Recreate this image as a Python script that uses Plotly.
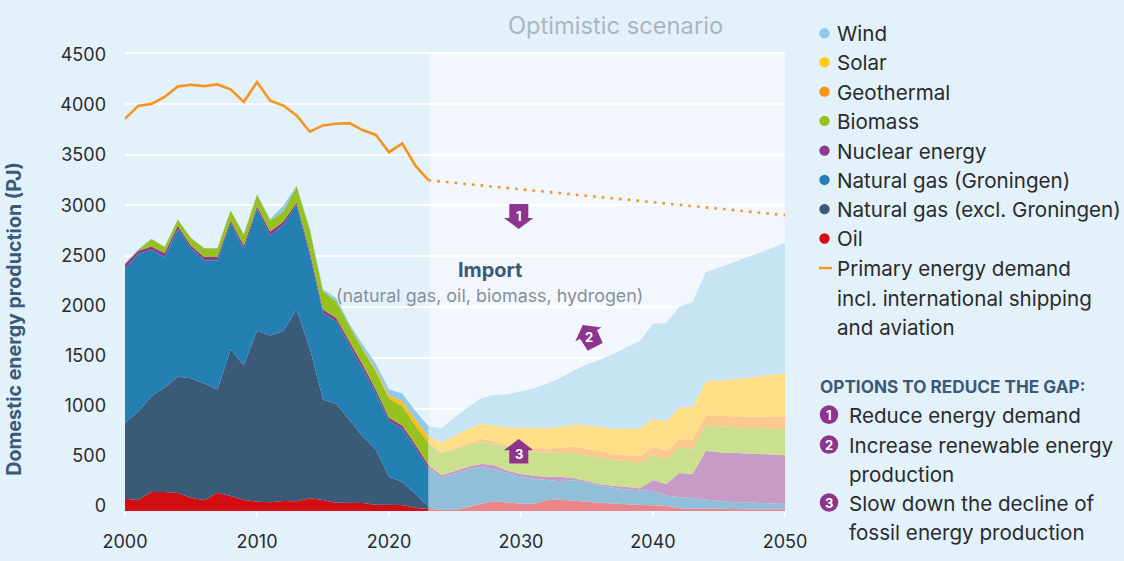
import plotly.graph_objects as go

years = list(range(2000, 2051))
SPLIT = 24  # index just after 2023

oil = [121,108,186,186,176,131,105,180,147,108,92,85,98,95,124,108,82,78,78,62,59,59,33,20,
       10,10,42,72,95,82,72,72,108,111,98,92,82,75,62,59,56,49,26,23,23,23,20,16,16,16,16]
gas_excl = [745,866,941,1023,1141,1173,1147,1013,1438,1324,1677,1637,1670,1882,1477,987,971,820,657,542,278,225,137,26,
            0,0,0,0,0,0,0,0,0,0,0,0,0,0,0,0,0,0,0,0,0,0,0,0,0,0,0]
gas_gron = [1513,1549,1438,1284,1451,1275,1209,1268,1242,1141,1196,984,1042,1029,915,850,810,735,670,556,546,523,451,369,
            317,359,366,359,314,288,265,245,196,180,203,186,163,150,150,144,141,101,111,101,85,75,69,69,62,56,52]
nuclear = [46,33,33,39,33,26,33,33,26,33,26,39,33,23,33,33,33,33,33,33,33,33,33,33,
           23,23,26,33,39,26,26,29,33,46,23,13,16,23,23,20,108,114,235,239,484,480,484,480,480,480,480]
biomass = [3,10,72,59,59,75,85,85,98,108,114,108,98,157,212,180,163,147,147,180,186,190,180,212,
           216,212,212,212,212,225,232,235,235,235,242,255,261,252,255,248,245,242,248,248,248,252,252,252,255,258,258]
geothermal = [0,0,0,0,0,0,0,0,0,0,0,0,0,0,0,0,0,3,3,3,7,7,10,15,
              7,13,16,33,26,23,26,33,42,49,65,65,65,59,56,69,82,88,88,88,95,105,108,111,114,118,124]
solar = [0,0,0,0,0,0,0,0,0,0,0,0,0,0,0,0,0,0,5,15,26,42,55,55,
         98,124,144,147,154,176,193,199,203,203,216,232,235,248,261,271,271,288,307,320,340,346,359,379,395,412,425]
wind = [3,3,3,3,3,3,3,3,3,5,10,13,56,10,16,16,33,23,41,54,59,75,82,100,
        144,183,216,252,301,327,363,392,435,484,533,595,663,735,801,856,935,961,993,1033,1069,1108,1144,1176,1209,1242,1281]

demand_years = list(range(2000, 2024))
demand = [3851,3977,3997,4065,4169,4185,4172,4188,4140,4016,4211,4029,3981,3883,3724,3786,3802,3808,3740,3692,3523,3610,3390,3247]
scenario_years = [2023, 2030, 2040, 2050]
scenario_demand = [3247, 3157, 3032, 2905]

y_ticks = [0, 500, 1000, 1500, 2000, 2500, 3000, 3500, 4000, 4500]
x_ticks = [2000, 2010, 2020, 2030, 2040, 2050]

legend_labels = ["Wind", "Solar", "Geothermal", "Biomass", "Nuclear energy",
                 "Natural gas (Groningen)", "Natural gas (excl. Groningen)", "Oil"]
demand_label = ["Primary energy demand", "incl. international shipping", "and aviation"]
options_title = "OPTIONS TO REDUCE THE GAP:"
options_lines = ["Reduce energy demand", "Increase renewable energy", "production",
                 "Slow down the decline of", "fossil energy production"]

COL = {"Wind": "#8fcaea", "Solar": "#fdbe0f", "Geothermal": "#f7941d", "Biomass": "#96c11f",
       "Nuclear energy": "#8e3a8f", "Natural gas (Groningen)": "#2480b3",
       "Natural gas (excl. Groningen)": "#3b5a78", "Oil": "#d20d14"}
LEG_COL = dict(COL, Solar="#ffcb17")
BG = "#e3f1fb"
PANEL = "#f1f7fd"
ORANGE = "#f7941d"
PURPLE = "#8e348c"
NAVY = "#3b5a78"
TXT = "#2b2b2b"
FONT = "Inter"
BODY = 20.6


def light(h):
    r, g, b = int(h[1:3], 16), int(h[3:5], 16), int(h[5:7], 16)
    return "rgb(%d,%d,%d)" % tuple((c + 255) // 2 for c in (r, g, b))


# plot rectangle in page pixels
L, R, T, B = 125.0, 785.0, 40.0, 511.5


def px(x, y):
    return (x - L) / (R - L), (B - y) / (B - T)


fig = go.Figure()
layers = [("Oil", oil), ("Natural gas (excl. Groningen)", gas_excl), ("Natural gas (Groningen)", gas_gron),
          ("Nuclear energy", nuclear), ("Biomass", biomass), ("Geothermal", geothermal),
          ("Solar", solar), ("Wind", wind)]
for name, vals in layers:
    fig.add_trace(go.Scatter(x=years[:SPLIT], y=vals[:SPLIT], name=name, stackgroup="hist", mode="lines",
                             line=dict(width=0), fillcolor=COL[name], showlegend=False))
for name, vals in layers:
    fig.add_trace(go.Scatter(x=years[SPLIT - 1:], y=vals[SPLIT - 1:], name=name + " (scenario)", stackgroup="fut",
                             mode="lines", line=dict(width=0), fillcolor=light(COL[name]), showlegend=False))
fig.add_trace(go.Scatter(x=demand_years, y=demand, name="Primary energy demand", mode="lines",
                         line=dict(color=ORANGE, width=2.6), showlegend=False))
fig.add_trace(go.Scatter(x=scenario_years, y=scenario_demand, name="Primary energy demand (scenario)", mode="lines",
                         line=dict(color=ORANGE, width=2.6, dash="2.6px,6.1px"), showlegend=False))
# carries the tick-label axis
fig.add_trace(go.Scatter(x=[2000], y=[0], yaxis="y2", mode="markers", marker=dict(opacity=0), showlegend=False,
                         hoverinfo="skip"))

shapes = [dict(type="rect", xref="x", yref="y", x0=2023.1, x1=2050.05, y0=0, y1=4500,
               fillcolor=PANEL, line=dict(width=0), layer="below")]
ann = []


def text(x, y, s, size=BODY, color=TXT, anchor="left", bold=False, angle=0):
    xp, yp = px(x, y)
    ann.append(dict(xref="paper", yref="paper", x=xp, y=yp, text="<b>%s</b>" % s if bold else s, showarrow=False,
                    xanchor=anchor, yanchor="middle", textangle=angle,
                    font=dict(family=FONT, size=size, color=color)))


def circle(cx, cy, r, color):
    x0, y0 = px(cx - r, cy + r)
    x1, y1 = px(cx + r, cy - r)
    shapes.append(dict(type="circle", xref="paper", yref="paper", x0=x0, y0=y0, x1=x1, y1=y1,
                       fillcolor=color, line=dict(width=0)))


def polygon(points, color):
    d = ""
    for i, (a, b) in enumerate(points):
        xp, yp = px(a, b)
        d += ("M" if i == 0 else "L") + "%.5f,%.5f " % (xp, yp)
    shapes.append(dict(type="path", xref="paper", yref="paper", path=d + "Z", fillcolor=color, line=dict(width=0)))


legend_y = [33.3, 62.3, 91.7, 121, 150.7, 180, 209.3, 238.7]
for lab, yy in zip(legend_labels, legend_y):
    circle(824.5, yy, 5.2, LEG_COL[lab])
    text(835, yy + 0.5, lab)
for lab, yy in zip(demand_label, [268.3, 298, 327]):
    text(835, yy + 0.5, lab)
x0, y0 = px(819, 268.3)
x1, y1 = px(832, 268.3)
shapes.append(dict(type="line", xref="paper", yref="paper", x0=x0, y0=y0, x1=x1, y1=y1,
                   line=dict(color=ORANGE, width=2.5)))

text(818, 387, options_title, size=17.2, color=NAVY, bold=True)
for lab, yy in zip(options_lines, [415, 445, 474, 503, 532.5]):
    text(847, yy + 0.5, lab)
for num, yy in zip("123", [415, 445, 503]):
    circle(829, yy, 9.3, PURPLE)
    text(829, yy, num, size=13, color="white", anchor="center", bold=True)

# arrows
polygon([(509.3, 204.3), (528.3, 204.3), (528.3, 218.3), (533.3, 218.3), (518.7, 229.3), (504, 218.3), (509.3, 218.3)],
        PURPLE)
polygon([(518.7, 439.3), (533.3, 450.7), (528.3, 450.7), (528.3, 464), (509.3, 464), (509.3, 450.7), (504, 450.7)],
        PURPLE)
polygon([(582.7, 325.3), (601.7, 327.7), (597, 330.2), (602.7, 343.3), (587.7, 351), (580.1, 339.1), (575.3, 341.7)],
        PURPLE)
text(518.5, 216, "1", size=13, color="white", anchor="center", bold=True)
text(589, 337.7, "2", size=13, color="white", anchor="center", bold=True)
text(518.5, 454, "3", size=13, color="white", anchor="center", bold=True)

text(490, 270, "Import", size=19.9, color=NAVY, anchor="center", bold=True)
text(489.5, 296, "(natural gas, oil, biomass, hydrogen)", size=17.9, color="#8a8f95", anchor="center")
text(615, 25, "Optimistic scenario", size=23.7, color="#aeb6bd", anchor="center")
text(14, 319, "Domestic energy production (PJ)", size=19.6, color=NAVY, anchor="center", bold=True, angle=-90)

fig.update_layout(
    width=1124, height=561, autosize=False,
    margin=dict(l=L, r=1124 - R, t=T, b=561 - B, pad=0),
    paper_bgcolor=BG, plot_bgcolor=BG,
    showlegend=False,
    font=dict(family=FONT, size=BODY, color=TXT),
    xaxis=dict(range=[2000, 2050], tickmode="array", tickvals=x_ticks, showgrid=False, zeroline=False,
               automargin=False, ticks="outside", ticklen=5, tickwidth=1.5, tickcolor="white", ticklabelstandoff=9,
               showline=False, tickfont=dict(family=FONT, size=18, color=TXT)),
    yaxis=dict(range=[0, (B - T) / 0.10196], tickmode="array", tickvals=y_ticks, showticklabels=False, automargin=False,
               showgrid=True, gridcolor="white", gridwidth=1.6, zeroline=False, showline=False, ticks=""),
    yaxis2=dict(overlaying="y", side="left", anchor="x", range=[(506 - B) / 0.1002, (506 - T) / 0.1002], automargin=False,
                tickmode="array", tickvals=y_ticks, showgrid=False, zeroline=False, showline=False, ticks="",
                ticklabelstandoff=18, tickfont=dict(family=FONT, size=18, color=TXT)),
    shapes=shapes, annotations=ann,
)
fig.write_html("out.html", config=dict(displayModeBar=False),
               post_script="document.body.style.margin='0';document.body.style.overflow='hidden';")
